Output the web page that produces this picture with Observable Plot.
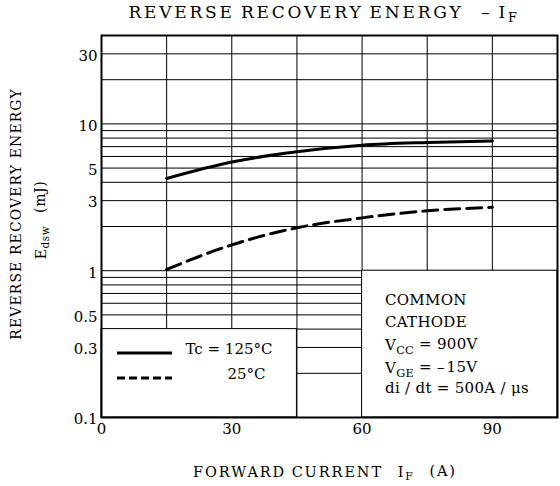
<!DOCTYPE html>
<html><head><meta charset="utf-8">
<script src="https://cdn.jsdelivr.net/npm/d3@7"></script>
<script src="https://cdn.jsdelivr.net/npm/@observablehq/plot@0.6"></script>
<style>body{margin:0;background:#fff} svg{font-family:"DejaVu Serif",serif}</style>
</head><body><div id="chart"></div>
<script>
// ---- data ----
const current = [15, 30, 45, 60, 75, 90];            // I_F (A)
const e125 = [4.25, 5.5, 6.45, 7.15, 7.47, 7.66];     // Tc = 125°C (mJ)
const e25  = [1.02, 1.5, 1.96, 2.29, 2.56, 2.70];     // Tc = 25°C (mJ)
const seriesNames = ["Tc = 125°C", "25°C"];
const xTicks = [0, 30, 60, 90];
const yTicks = [0.1, 0.3, 0.5, 1, 3, 5, 10, 30];
const xGrid = [15, 30, 45, 60, 75, 90];
const yGrid = [0.2,0.3,0.4,0.5,0.6,0.7,0.8,0.9,1,2,3,4,5,6,7,8,9,10,20,30];
const conditions = ["COMMON", "CATHODE", "V_{CC} = 900V", "V_{GE} = \u2013\u200a15V", "di / dt = 500A / \u03bcs"];
const titleText = "REVERSE RECOVERY ENERGY \u2002\u2013 I_{F}";
const xLabel = "FORWARD CURRENT \u2002I_{F}\u2002 (A)";
const yLabel1 = "REVERSE RECOVERY ENERGY";
const yLabel2 = "E_{dsw}\u2002 (mJ)";

const rows = [
  ...current.map((x, i) => ({x, y: e125[i], s: seriesNames[0]})),
  ...current.map((x, i) => ({x, y: e25[i], s: seriesNames[1]}))
];

const chart = Plot.plot({
  width: 560, height: 486,
  marginLeft: 101, marginRight: 3, marginTop: 35, marginBottom: 69,
  style: {fontFamily: "DejaVu Serif", fontSize: "15px", background: "white", color: "black"},
  x: {domain: [0, 105], axis: null},
  y: {type: "log", domain: [0.1, 40], axis: null},
  marks: [
    Plot.ruleY(yGrid, {stroke: "black", strokeWidth: 1}),
    Plot.ruleX(xGrid, {stroke: "black", strokeWidth: 1}),
    Plot.rect([0], {x1: 0, x2: 45, y1: 0.1, y2: 0.4, fill: "white", stroke: "black", strokeWidth: 1}),
    Plot.rect([0], {x1: 60, x2: 105, y1: 0.1, y2: 1, fill: "white", stroke: "black", strokeWidth: 1}),
    Plot.line(rows.filter(d => d.s === seriesNames[0]), {x: "x", y: "y", curve: "monotone-x", stroke: "black", strokeWidth: 3}),
    Plot.line(rows.filter(d => d.s === seriesNames[1]), {x: "x", y: "y", curve: "monotone-x", stroke: "black", strokeWidth: 3, strokeDasharray: "15,7"}),
    Plot.frame({stroke: "black", strokeWidth: 2}),
    // tick labels
    Plot.text(xTicks, {x: d => d, frameAnchor: "bottom", dy: 16, fontSize: 15, text: d => String(d)}),
    Plot.text(yTicks, {y: d => d, frameAnchor: "left", dx: -4, dy: 2, textAnchor: "end", fontSize: 15, text: d => String(d)}),
    // legend labels
    Plot.text([seriesNames[0]], {frameAnchor: "bottom-left", dx: 84, dy: -64, textAnchor: "start", fontSize: 15, text: d => d}),
    Plot.text([seriesNames[1]], {frameAnchor: "bottom-left", dx: 126, dy: -39, textAnchor: "start", fontSize: 15, text: d => d})
  ]
});

document.getElementById("chart").appendChild(chart);
const svg = d3.select(chart);

function addText(str, x, y, size, opts = {}) {
  const t = svg.append("text")
    .attr("font-size", size)
    .attr("text-anchor", opts.anchor || "middle")
    .attr("dy", "0.35em")
    .attr("fill", "black");
  if (opts.ls) t.attr("letter-spacing", opts.ls);
  if (opts.ws) t.attr("word-spacing", opts.ws);
  if (opts.rotate) t.attr("transform", `translate(${x},${y}) rotate(${opts.rotate})`);
  else t.attr("x", x).attr("y", y);
  const parts = str.split(/(_\{[^}]*\})/);
  let sub = false;
  for (const p of parts) {
    if (!p) continue;
    if (p.startsWith("_{")) {
      t.append("tspan").attr("font-size", "0.75em").attr("dy", "0.3em").text(p.slice(2, -1));
      sub = true;
    } else {
      t.append("tspan").attr("dy", sub ? "-0.3em" : null).text(p);
      sub = false;
    }
  }
  return t;
}

addText(titleText, 324, 12, 17, {ls: 2.8, ws: -2});
addText(xLabel, 325, 472, 14.5, {ls: 1.9, ws: -1});
addText(yLabel1, 16, 214, 14, {rotate: -90, ls: 1.1});
addText(yLabel2, 41, 220, 14, {rotate: -90, ls: 0.6});

const condY = [300, 322, 345, 368, 388];
conditions.forEach((c, i) => addText(c, 385, condY[i], 15, {anchor: "start", ls: 0.3}));

// legend line samples
const lg = svg.append("g").attr("stroke", "black").attr("stroke-width", 3);
lg.append("line").attr("x1", 117).attr("x2", 172).attr("y1", 353).attr("y2", 353);
lg.append("line").attr("x1", 117).attr("x2", 172).attr("y1", 378).attr("y2", 378).attr("stroke-dasharray", "8,4");
</script></body></html>
